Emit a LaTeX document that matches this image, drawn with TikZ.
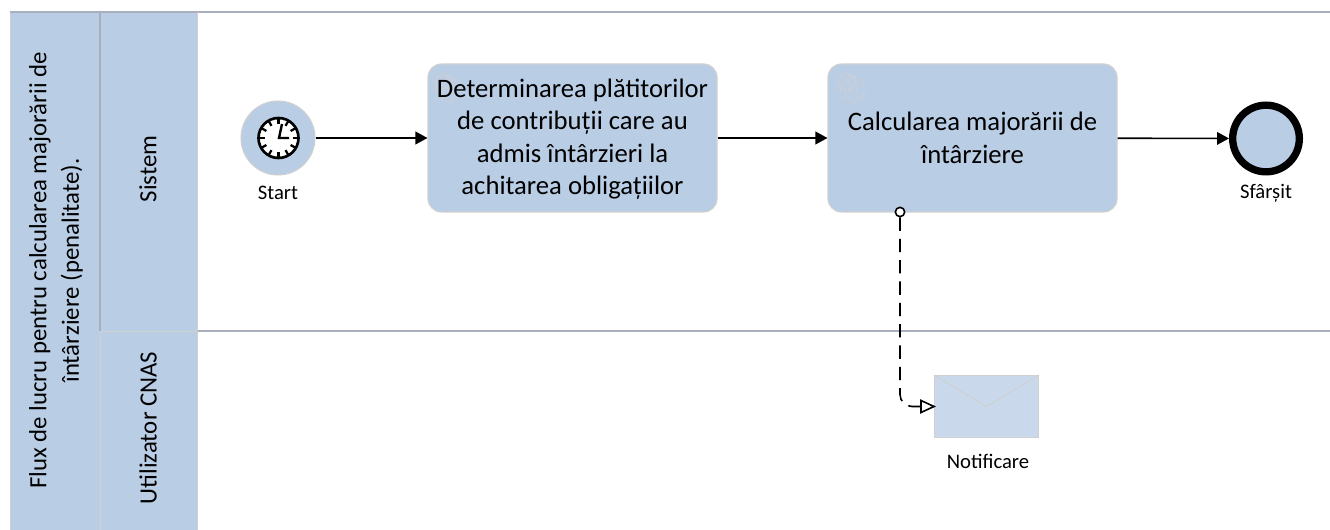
\documentclass[tikz,border=0pt]{standalone}
\usepackage{fontspec}
\setmainfont{Carlito}
\usetikzlibrary{arrows.meta}
\definecolor{lanefill}{HTML}{B9CDE5}
\definecolor{mailfill}{HTML}{C9D8EB}
\definecolor{laneline}{HTML}{A9AEBF}
\definecolor{edgegrey}{HTML}{D0D0D0}
\definecolor{geargrey}{HTML}{C8CEDA}
% one gear: centre, size
\newcommand{\gearicon}[2]{%
  \begin{scope}[shift={#1},scale=#2]
    \foreach \a in {0,45,...,315} {
      \draw[geargrey,line width=.8pt] (\a-13:9.5) -- (\a-9:13) -- (\a+9:13) -- (\a+13:9.5) -- (\a+32:9.5);
    }
    \draw[geargrey,line width=.8pt] (0,0) circle (4.5);
  \end{scope}
}
\tikzset{
  taskbox/.style={draw=edgegrey,line width=.8pt,fill=lanefill,rounded corners=10pt,minimum width=216.75pt,minimum height=111pt,inner sep=0pt},
  tasktext/.style={align=center,font=\fontsize{20}{24.4}\selectfont,inner sep=0pt},
  eventlabel/.style={font=\fontsize{15.5}{18}\selectfont},
  lanetext/.style={rotate=90,align=center,font=\fontsize{18.6}{24.5}\selectfont},
  flow/.style={black,line width=1.2pt,-{Triangle[length=9pt,width=9.5pt]}},
  msgflow/.style={black,line width=1.2pt,dash pattern=on 10pt off 6pt,rounded corners=9pt}
}
\begin{document}
\begin{tikzpicture}[x=.75pt,y=-.75pt]
  \useasboundingbox (0,0) rectangle (1330,530);
  % lanes
  \fill[lanefill] (11,12) rectangle (197,530);
  \draw[edgegrey,line width=1.2pt] (10.5,12) -- (10.5,530);
  \draw[laneline,line width=1pt] (10,12) -- (1330,12);
  \draw[laneline,line width=.8pt] (100,12) -- (100,331);
  \draw[edgegrey,line width=.6pt] (100,331) -- (100,530);
  \draw[edgegrey,line width=.6pt] (100,331) -- (197,331);
  \draw[laneline,line width=1pt] (197,331) -- (1330,331);
  \draw[edgegrey,line width=.8pt] (197.5,12) -- (197.5,530);
  \node[lanetext] (flowtitle) at (56,270.5) {Flux de lucru pentru calcularea majorării de\\întârziere (penalitate).};
  \node[lanetext] (lanesys) at (148,169) {Sistem};
  \node[lanetext] (laneuser) at (148,428) {Utilizator CNAS};
  % events
  \node[circle,draw=edgegrey,line width=.8pt,fill=lanefill,minimum size=55.5pt,inner sep=0pt] (start) at (278,138) {};
  \node[circle,draw=black,line width=5.5pt,fill=lanefill,minimum size=50pt,inner sep=0pt] (end) at (1266,138.5) {};
  \node[eventlabel] (startlbl) at (278,193) {Start};
  \node[eventlabel] (endlbl) at (1266,193) {Sfârșit};
  % clock
  \draw[black,fill=white,line width=2pt] (278.5,138) circle (20);
  \foreach \a in {0,30,...,330} {
    \draw[black,line width=1.7pt] (278.5,138) ++(\a:20) -- ++(\a+180:6);
  }
  \draw[black,line width=1.8pt] (282,124) -- (279,138) -- (289,138);
  % tasks
  \node[taskbox] (task1) at (572.5,138) {};
  \node[taskbox] (task2) at (972.5,138) {};
  \gearicon{(449,89.5)}{1}
  \gearicon{(443,82)}{.7}
  \gearicon{(853.5,89.5)}{1}
  \gearicon{(847,82)}{.7}
  \node[tasktext] (task1txt) at (572.5,139) {Determinarea plătitorilor\\de contribuții care au\\admis întârzieri la\\achitarea obligațiilor};
  \node[tasktext] (task2txt) at (972.5,138) {Calcularea majorării de\\întârziere};
  % message
  \node[draw=edgegrey,line width=.8pt,fill=mailfill,minimum width=78pt,minimum height=46.5pt,inner sep=0pt] (mail) at (986.5,406.5) {};
  \draw[edgegrey,line width=.7pt] (mail.north west) -- (mail.center) -- (mail.north east);
  \node[eventlabel] (maillbl) at (988,461) {Notificare};
  % flows
  \draw[flow] (start) -- (task1);
  \draw[flow] (task1) -- (task2);
  \draw[flow] (task2) -- (end);
  \node[circle,draw=black,line width=1.2pt,fill=white,minimum size=7pt,inner sep=0pt] (msgstart) at (900,212) {};
  \draw[msgflow] (msgstart.south) |- (mail.west);
  \draw[black,line width=1.2pt,fill=white] (mail.west) -- (921,400.5) -- (921,412.5) -- cycle;
\end{tikzpicture}
\end{document}
